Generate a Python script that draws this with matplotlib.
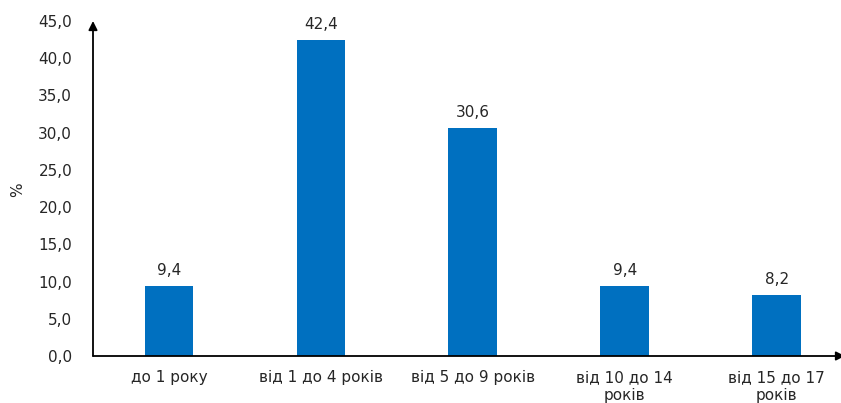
import numpy as np
import matplotlib.pyplot as plt

plt.rcParams['font.family'] = ['DejaVu Sans']

# age groups and share of children, %
groups = ["до 1 року", "від 1 до 4 років", "від 5 до 9 років",
          "від 10 до 14\nроків", "від 15 до 17\nроків"]
shares = [9.4, 42.4, 30.6, 9.4, 8.2]
y_ticks = [0, 5, 10, 15, 20, 25, 30, 35, 40, 45]

text_color = "#262626"
bar_color = "#0070C0"
fs = 11

fig = plt.figure(figsize=(8.41, 4.03), dpi=100)
ax = fig.add_axes([93 / 841, 1 - 356 / 403, 752 / 841, 335 / 403])

x = np.arange(len(groups))
ax.bar(x, shares, width=0.32, color=bar_color, zorder=2)

for xi, v in zip(x, shares):
    ax.text(xi, v + 1.1, f"{v:.1f}".replace(".", ","), ha="center", va="bottom",
            fontsize=fs, color=text_color)

ax.set_xlim(-0.5, len(groups) - 0.55)
ax.set_ylim(0, 45)
ax.set_yticks(y_ticks)
ax.set_yticklabels([f"{t:.1f}".replace(".", ",") for t in y_ticks],
                   fontsize=fs, color=text_color)
ax.set_xticks(x)
ax.set_xticklabels(groups, fontsize=fs, color=text_color, linespacing=1.25)
ax.tick_params(axis="both", length=0)
ax.tick_params(axis="x", pad=10)
ax.tick_params(axis="y", pad=15)

for s in ax.spines.values():
    s.set_visible(False)

# axes drawn as arrows
ax.annotate("", xy=(0, 1.0), xytext=(0, 0), xycoords="axes fraction",
            arrowprops=dict(arrowstyle="-|>", color="black", lw=1.3,
                            mutation_scale=13, shrinkA=0, shrinkB=0))
ax.annotate("", xy=(1.0, 0), xytext=(0, 0), xycoords="axes fraction",
            arrowprops=dict(arrowstyle="-|>", color="black", lw=1.3,
                            mutation_scale=13, shrinkA=0, shrinkB=0))

fig.text(18 / 841, 1 - 190 / 403, "%", rotation=90, ha="center", va="center",
         fontsize=fs, color=text_color)

fig.savefig("out.png", dpi=100)
